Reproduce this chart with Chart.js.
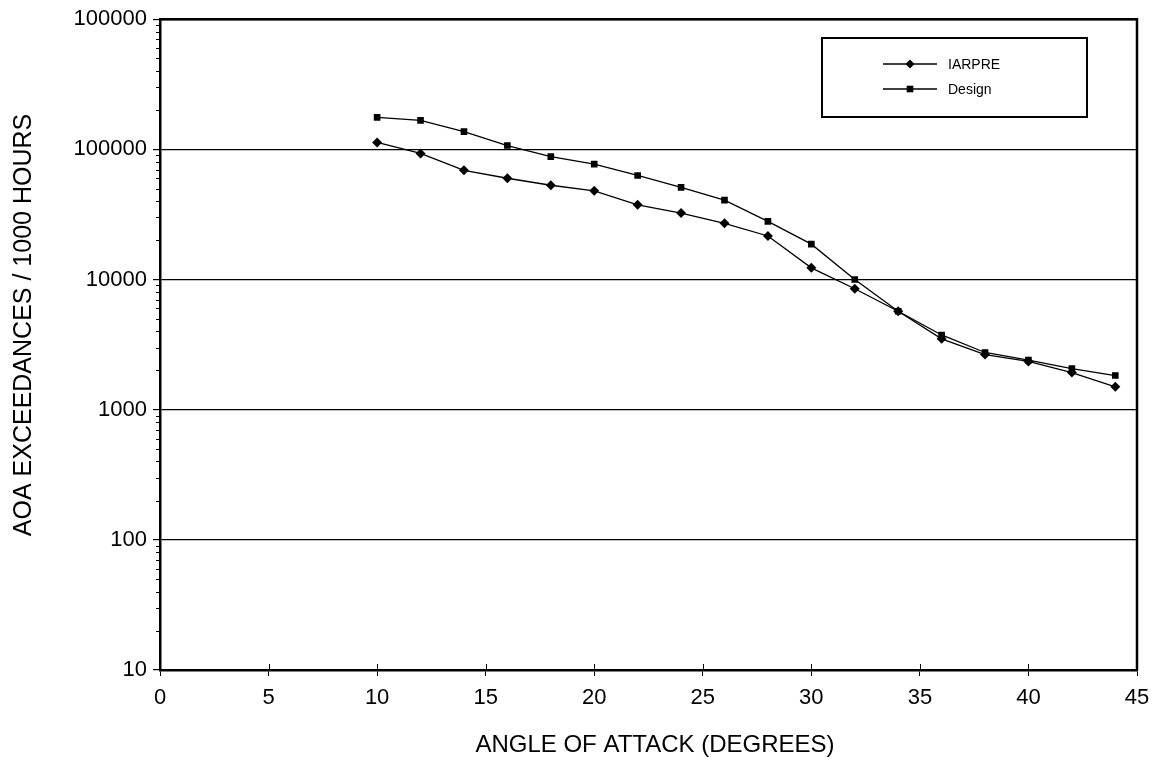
<!DOCTYPE html>
<html>
<head>
<meta charset="utf-8">
<script src="https://cdn.jsdelivr.net/npm/chart.js@4/dist/chart.umd.min.js"></script>
<style>
  html, body { margin: 0; padding: 0; background: #fff; }
  #wrap { width: 1160px; height: 764px; position: relative; }
</style>
</head>
<body>
<div id="wrap"><canvas id="c" width="1160" height="764"></canvas></div>
<script>
// ---- data ----
const angles = [10, 12, 14, 16, 18, 20, 22, 24, 26, 28, 30, 32, 34, 36, 38, 40, 42, 44];
const iarpre = [113000, 93000, 69000, 60000, 53000, 48000, 37500, 32400, 27000, 21600, 12300, 8500, 5700, 3500, 2650, 2350, 1930, 1500];
const design = [176000, 167000, 137000, 107000, 88000, 77000, 63000, 51000, 40700, 28000, 18700, 10000, 5700, 3750, 2750, 2400, 2070, 1830];
const seriesNames = ["IARPRE", "Design"];
const yTickValues = [10, 100, 1000, 10000, 100000, 1000000];
const yTickLabels = ["10", "100", "1000", "10000", "100000", "100000"];
const xTickValues = [0, 5, 10, 15, 20, 25, 30, 35, 40, 45];
const xTitle = "ANGLE OF ATTACK (DEGREES)";
const yTitle = "AOA EXCEEDANCES / 1000 HOURS";

const FONT = '"Liberation Sans", Arial, Helvetica, sans-serif';

function toPoints(xs, ys) { return xs.map((x, i) => ({ x: x, y: ys[i] })); }

// frame, minor ticks, inner x ticks
const framePlugin = {
  id: 'frame',
  afterDraw(chart) {
    const ctx = chart.ctx, a = chart.chartArea;
    const ys = chart.scales.y, xs = chart.scales.x;
    ctx.save();
    ctx.strokeStyle = '#000';
    ctx.lineWidth = 2.5;
    ctx.beginPath();
    ctx.moveTo(a.left, a.top); ctx.lineTo(a.right, a.top); ctx.lineTo(a.right, a.bottom);
    ctx.stroke();
    ctx.lineWidth = 1;
    ctx.beginPath();
    for (let d = 10; d < 1000000; d *= 10) {
      for (let m = 2; m <= 9; m++) {
        const py = Math.round(ys.getPixelForValue(d * m)) + 0.5;
        ctx.moveTo(a.left - 4, py); ctx.lineTo(a.left, py);
      }
    }
    xTickValues.forEach(v => {
      const px = Math.round(xs.getPixelForValue(v)) + 0.5;
      ctx.moveTo(px, a.bottom); ctx.lineTo(px, a.bottom - 6);
    });
    ctx.stroke();
    ctx.restore();
  }
};

// axis titles
const titlePlugin = {
  id: 'titles',
  afterDraw(chart) {
    const ctx = chart.ctx;
    ctx.save();
    ctx.fillStyle = '#000';
    ctx.textAlign = 'center';
    ctx.textBaseline = 'middle';
    ctx.font = '24px ' + FONT;
    ctx.fillText(xTitle, 655, 745);
    ctx.font = '25px ' + FONT;
    ctx.translate(24, 325);
    ctx.rotate(-Math.PI / 2);
    ctx.fillText(yTitle, 0, 0);
    ctx.restore();
  }
};

// legend box
const legendPlugin = {
  id: 'boxLegend',
  afterDraw(chart) {
    const ctx = chart.ctx;
    ctx.save();
    ctx.strokeStyle = '#000';
    ctx.lineWidth = 2;
    ctx.strokeRect(822, 38, 265, 79);
    const rows = [64, 89];
    chart.data.datasets.forEach((ds, i) => {
      const y = rows[i];
      ctx.lineWidth = 1.3;
      ctx.beginPath();
      ctx.moveTo(883, y); ctx.lineTo(937, y);
      ctx.stroke();
      ctx.fillStyle = '#000';
      ctx.beginPath();
      if (ds.pointStyle === 'rectRot') {
        const r = 4.5;
        ctx.moveTo(910, y - r); ctx.lineTo(910 + r, y); ctx.lineTo(910, y + r); ctx.lineTo(910 - r, y);
        ctx.closePath();
      } else {
        ctx.rect(910 - 3.3, y - 3.3, 6.6, 6.6);
      }
      ctx.fill();
      ctx.font = '14px ' + FONT;
      ctx.textAlign = 'left';
      ctx.textBaseline = 'middle';
      ctx.fillText(ds.label, 948, y + 1);
    });
    ctx.restore();
  }
};

new Chart(document.getElementById('c'), {
  type: 'line',
  data: {
    datasets: [
      {
        label: seriesNames[0],
        data: toPoints(angles, iarpre),
        borderColor: '#000', backgroundColor: '#000',
        borderWidth: 1.3, pointStyle: 'rectRot', pointRadius: 5,
        pointBorderWidth: 0, tension: 0
      },
      {
        label: seriesNames[1],
        data: toPoints(angles, design),
        borderColor: '#000', backgroundColor: '#000',
        borderWidth: 1.3, pointStyle: 'rect', pointRadius: 4.7,
        pointBorderWidth: 0, tension: 0
      }
    ]
  },
  options: {
    responsive: false,
    animation: false,
    events: [],
    layout: { padding: { top: 9, right: 23, left: 0, bottom: 0 } },
    plugins: { legend: { display: false }, tooltip: { enabled: false } },
    scales: {
      x: {
        type: 'linear', min: 0, max: 45,
        afterBuildTicks: s => { s.ticks = xTickValues.map(v => ({ value: v })); },
        afterFit: s => { s.height = 94; },
        ticks: { color: '#000', font: { family: FONT, size: 22 }, padding: 9, maxRotation: 0 },
        grid: { drawOnChartArea: false, drawTicks: true, tickLength: 6, color: '#000', lineWidth: 1 },
        border: { display: true, color: '#000', width: 2.5 }
      },
      y: {
        type: 'logarithmic', min: 10, max: 1000000,
        afterBuildTicks: s => { s.ticks = yTickValues.map(v => ({ value: v })); },
        afterFit: s => { s.width = 160; },
        ticks: {
          color: '#000', font: { family: FONT, size: 22 }, padding: 6,
          callback: (v, i) => yTickLabels[i]
        },
        grid: { drawOnChartArea: true, drawTicks: true, tickLength: 7, color: '#000', lineWidth: 1.2 },
        border: { display: true, color: '#000', width: 2.5 }
      }
    }
  },
  plugins: [framePlugin, titlePlugin, legendPlugin]
});
</script>
</body>
</html>
